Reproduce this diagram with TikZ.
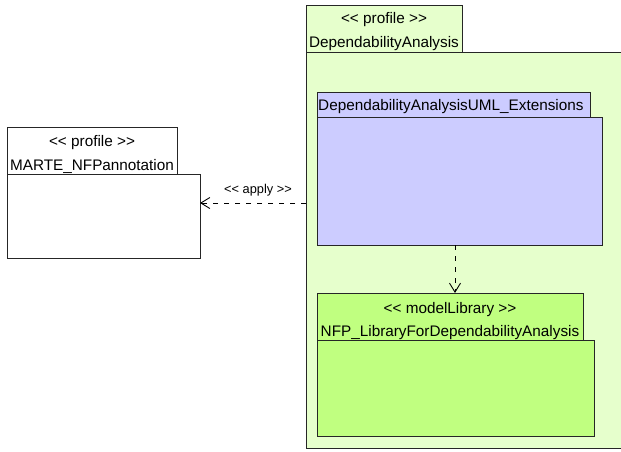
\documentclass[tikz,border=0pt]{standalone}
\usepackage{fontspec}
\setmainfont{Liberation Sans}
\usetikzlibrary{arrows.meta}
\definecolor{outerfill}{RGB}{230,255,204}
\definecolor{bluefill}{RGB}{204,204,255}
\definecolor{greenfill}{RGB}{192,255,128}
\tikzset{
  pkg/.style={draw=black!85, line width=0.9pt, anchor=north west, inner sep=0pt, outer sep=0pt},
  lbl/.style={font=\fontsize{15.3}{16}\selectfont, inner sep=0pt, anchor=base},
  small/.style={font=\fontsize{12.8}{13}\selectfont, inner sep=0pt},
  deparrow/.style={line width=0.9pt, dash pattern=on 5pt off 6pt, -{Straight Barb[length=9pt,width=11pt,line width=0.9pt]}}
}
\begin{document}
\begin{tikzpicture}[x=1pt,y=-1pt]
\useasboundingbox (0,0) rectangle (621,451);
\fill[white] (0,0) rectangle (621,451);
% outer profile
\begin{scope}
\clip (0,0) rectangle (621,451);
\node[pkg, fill=outerfill, minimum width=330pt, minimum height=396pt] (outerBody) at (306,52) {};
\end{scope}
\node[pkg, fill=outerfill, minimum width=156pt, minimum height=47pt] (outerTab) at (306,5) {};
\node[lbl] (outerSt) at (384,23) {<{}< profile >{}>};
\node[lbl] (outerName) at (384,47) {DependabilityAnalysis};
% blue package
\node[pkg, fill=bluefill, minimum width=285pt, minimum height=128pt] (blueBody) at (317,117) {};
\node[pkg, fill=bluefill, minimum width=273pt, minimum height=25pt] (blueTab) at (317,92) {};
\node[lbl, anchor=base west] (blueName) at (318,110) {DependabilityAnalysisUML\_Extensions};
% green package
\node[pkg, fill=greenfill, minimum width=277pt, minimum height=96pt] (greenBody) at (317,340) {};
\node[pkg, fill=greenfill, minimum width=266pt, minimum height=47pt] (greenTab) at (317,293) {};
\node[lbl] (greenSt) at (450,313) {<{}< modelLibrary >{}>};
\node[lbl] (greenName) at (450,336) {NFP\_LibraryForDependabilityAnalysis};
% left package
\node[pkg, fill=white, minimum width=193pt, minimum height=84pt] (leftBody) at (7,174) {};
\node[pkg, fill=white, minimum width=170pt, minimum height=47pt] (leftTab) at (7,127) {};
\node[lbl] (leftSt) at (92,146) {<{}< profile >{}>};
\node[lbl] (leftName) at (92,170) {MARTE\_NFPannotation};
% connectors
\coordinate (applyLvl) at (0,203);
\coordinate (depX) at (455,0);
\draw[deparrow] (outerBody.west |- applyLvl) -- (leftBody.east |- applyLvl);
\node[small, anchor=base] (applyLbl) at (258,193) {<{}< apply >{}>};
\draw[deparrow] (blueBody.south -| depX) -- (greenTab.north -| depX);
\end{tikzpicture}
\end{document}
